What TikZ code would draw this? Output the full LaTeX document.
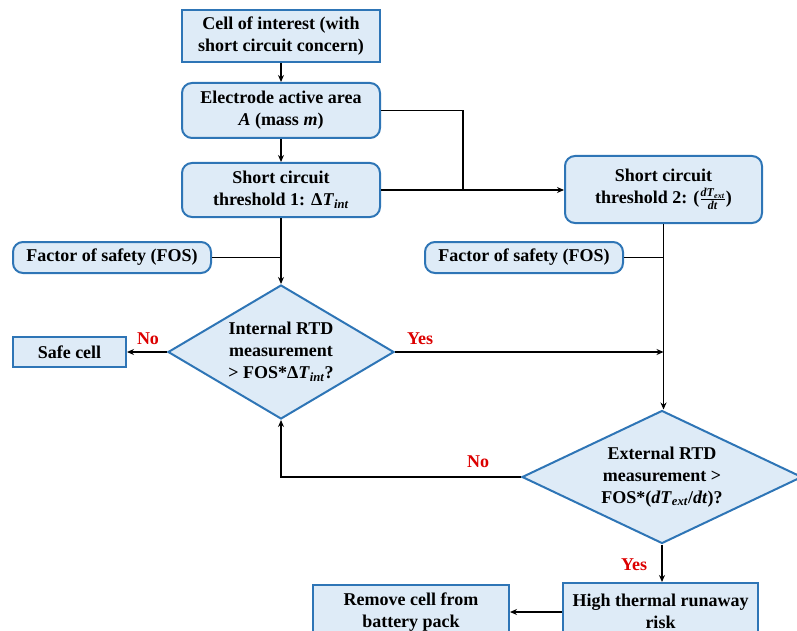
\documentclass[tikz,border=0pt]{standalone}
\usepackage{fontspec}
\setmainfont{Liberation Serif}
\usetikzlibrary{shapes.geometric,arrows.meta}
\definecolor{boxfill}{RGB}{222,235,247}
\definecolor{boxline}{RGB}{46,117,182}
\definecolor{lblred}{RGB}{220,0,0}
\newcommand{\vi}[1]{\textit{#1}}
\newcommand{\sbi}[1]{\textsubscript{\textit{#1}}}
\begin{document}
\begin{tikzpicture}[x=1pt,y=-1pt,
  every node/.style={font=\fontsize{18}{22}\selectfont\bfseries, align=center},
  sqbox/.style={draw=boxline, fill=boxfill, line width=2pt, inner sep=0pt},
  rdbox/.style={sqbox, rounded corners=10pt},
  dia/.style={draw=boxline, fill=boxfill, line width=2pt, diamond, inner sep=0pt},
  conn/.style={line width=1.8pt, draw=black},
  arr/.style={conn, -{Stealth[length=7pt,width=6pt]}},
  lbl/.style={text=lblred}
]
\useasboundingbox (0,0) rectangle (797,631);
\clip (0,0) rectangle (797,631);
% boxes
\node[sqbox, minimum width=198pt, minimum height=52pt] (n1) at (281,36) {Cell of interest (with\\short circuit concern)};
\node[rdbox, minimum width=198pt, minimum height=55pt] (n2) at (281,110.5) {Electrode active area\\\vi{A} (mass \vi{m})};
\node[rdbox, minimum width=198pt, minimum height=54pt] (n3) at (281,190) {Short circuit\\threshold 1: Δ\vi{T}\sbi{int}};
\node[rdbox, minimum width=197pt, minimum height=67pt] (n4) at (663.5,189.5) {Short circuit\\threshold 2: ($\frac{\mbox{\fontsize{12}{12}\selectfont\bfseries\vi{dT}\sbi{ext}}}{\mbox{\fontsize{12}{12}\selectfont\bfseries\vi{dt}}}$)};
\node[rdbox, minimum width=198pt, minimum height=31pt] (fosL) at (112,257.5) {Factor of safety (FOS)};
\node[rdbox, minimum width=198pt, minimum height=31pt] (fosR) at (524,257.5) {Factor of safety (FOS)};
\node[dia, aspect=1.69, minimum width=226pt, minimum height=134pt] (d1) at (281,352) {Internal RTD\\measurement\\> FOS*Δ\vi{T}\sbi{int}?};
\node[sqbox, minimum width=113pt, minimum height=30pt] (safe) at (69.5,352) {Safe cell};
\node[dia, aspect=2.12, minimum width=280pt, minimum height=133pt] (d2) at (662,477) {External RTD\\measurement >\\FOS*(\vi{dT}\sbi{ext}/\vi{dt})?};
\node[sqbox, minimum width=195pt, minimum height=57pt] (high) at (660.5,611.5) {High thermal runaway\\risk};
\node[sqbox, minimum width=196pt, minimum height=55pt] (remove) at (411,612) {Remove cell from\\battery pack};
% junction coordinates
\coordinate (j1) at (463,190);
\coordinate (jL) at (281,257.5);
\coordinate (jR) at (663.5,257.5);
\coordinate (jY) at (663.5,352);
\coordinate (jN) at (281,477);
% connectors
\draw[arr] (n1) -- (n2);
\draw[arr] (n2) -- (n3);
\draw[conn] (n2.east) -| (j1);
\draw[arr] (n3.east) -- (n3.east -| n4.west);
\draw[arr] (n3.south) -- (d1.north);
\draw[conn] (fosL.east) -- (jL);
\draw[arr] (n4.south) -- (n4.south |- d2.north);
\draw[conn] (fosR.east) -- (jR);
\draw[arr] (d1.west) -- (safe.east);
\draw[arr] (d1.east) -- (jY);
\draw[arr] (d2.west) -- (jN) -- (d1.south);
\draw[arr] (d2.south) -- (d2.south |- high.north);
\draw[arr] (high.west |- 0,612) -- (remove.east |- 0,612);
% labels
\node[lbl] at (148,339) {No};
\node[lbl] at (420,339) {Yes};
\node[lbl] at (478,462) {No};
\node[lbl] at (634,565) {Yes};
\end{tikzpicture}
\end{document}
